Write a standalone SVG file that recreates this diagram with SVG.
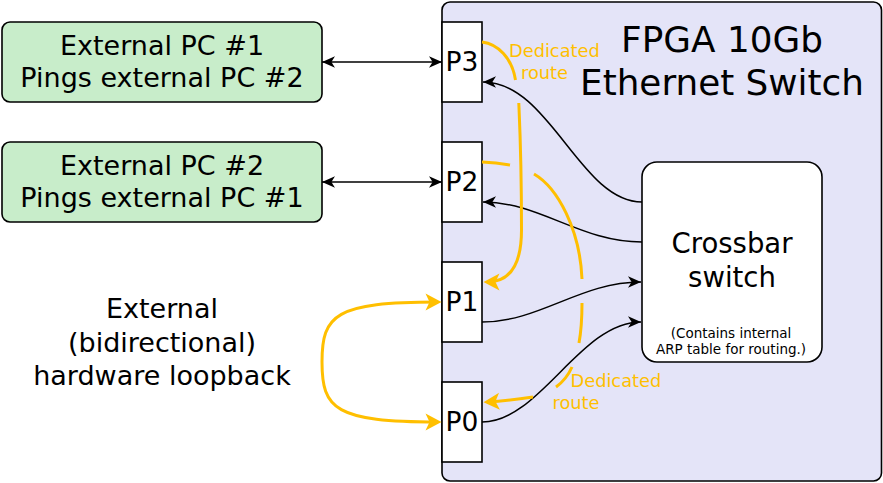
<svg xmlns="http://www.w3.org/2000/svg" width="883" height="483" viewBox="0 0 883 483">
<style>
text{font-family:"DejaVu Sans","Liberation Sans",sans-serif;fill:#000}
.pc{fill:#c8edca;stroke:#000;stroke-width:1.6}
.port{fill:#fff;stroke:#000;stroke-width:1.6}
.lbl{font-size:27px;text-anchor:middle}
.plbl{font-size:26.5px;text-anchor:middle}
.blk{fill:none;stroke:#000;stroke-width:1.5}
.org{fill:none;stroke:#ffbf00;stroke-width:3}
.otxt{font-size:17.8px;fill:#ffbf00}
</style>
<defs>
<marker id="ab" viewBox="0 0 14 12" refX="13" refY="6" markerWidth="14" markerHeight="12" orient="auto-start-reverse" markerUnits="userSpaceOnUse"><path d="M13,6 L0,0.3 L3.6,6 L0,11.7 z" fill="#000"/></marker>
<marker id="ao" viewBox="0 0 17 18" refX="13" refY="9" markerWidth="17" markerHeight="18" orient="auto-start-reverse" markerUnits="userSpaceOnUse"><path d="M16.5,9 L0.5,0.5 L4.5,9 L0.5,17.5 z" fill="#ffbf00"/></marker>
</defs>
<g id="fpga">
<rect x="442" y="2" width="439.5" height="479" rx="8" fill="#e4e4f8" stroke="#000" stroke-width="1.6"/>
<text x="722" y="52" font-size="35.8" text-anchor="middle">FPGA 10Gb</text>
<text x="722" y="95" font-size="35.8" text-anchor="middle">Ethernet Switch</text>
</g>
<g id="pc1">
<rect class="pc" x="2" y="22" width="320" height="80" rx="8"/>
<text class="lbl" x="162" y="55">External PC #1</text>
<text class="lbl" x="162" y="87">Pings external PC #2</text>
</g>
<g id="pc2">
<rect class="pc" x="2" y="142" width="320" height="80" rx="8"/>
<text class="lbl" x="162" y="175">External PC #2</text>
<text class="lbl" x="162" y="207">Pings external PC #1</text>
</g>
<g id="loopback-label">
<text class="lbl" x="162" y="318" font-size="27.3">External</text>
<text class="lbl" x="162" y="352" font-size="27.3">(bidirectional)</text>
<text class="lbl" x="162" y="385" font-size="27.3">hardware loopback</text>
</g>
<g id="p3"><rect class="port" x="442" y="22" width="40" height="80"/><text class="plbl" x="462" y="71">P3</text></g>
<g id="p2"><rect class="port" x="442" y="142" width="40" height="80"/><text class="plbl" x="462" y="191">P2</text></g>
<g id="p1"><rect class="port" x="442" y="262" width="40" height="80"/><text class="plbl" x="462" y="311">P1</text></g>
<g id="p0"><rect class="port" x="442" y="382" width="40" height="80"/><text class="plbl" x="462" y="431">P0</text></g>
<g id="crossbar">
<rect x="642" y="162" width="180" height="200" rx="15" fill="#fff" stroke="#000" stroke-width="1.6"/>
<text x="732" y="253" font-size="27.5" text-anchor="middle">Crossbar</text>
<text x="732" y="287" font-size="27.5" text-anchor="middle">switch</text>
<text x="731" y="338" font-size="13.5" text-anchor="middle">(Contains internal</text>
<text x="731" y="354" font-size="13.5" text-anchor="middle">ARP table for routing.)</text>
</g>
<g id="connectors">
<path class="blk" d="M322,62 L442,62" marker-start="url(#ab)" marker-end="url(#ab)"/>
<path class="blk" d="M322,182 L442,182" marker-start="url(#ab)" marker-end="url(#ab)"/>
<path class="blk" d="M642,202 C580,202 550,82 483,82" marker-end="url(#ab)"/>
<path class="blk" d="M642,242 C580,242 540,202 483,202" marker-end="url(#ab)"/>
<path class="blk" d="M482,322 C540,322 580,282 641,282" marker-end="url(#ab)"/>
<path class="blk" d="M482,422 C540,422 580,322 641,322" marker-end="url(#ab)"/>
<path class="org" d="M482,42 C498,44 512,58 515.5,80 M518.8,103 C520,130 521.5,160 521.5,230 C521.5,265 510,282 487,282" marker-end="url(#ao)"/>
<path class="org" d="M482,162 Q496,162.5 510,165 M534,174 C558,188 580,230 582,279 M582,303 C582,318 581,332 579,343 M572,367 C568,376 563,382 556,387 M533,397 C520,399 505,401 487,402" marker-end="url(#ao)"/>
<path class="org" d="M438,302 C335,302 322,315 322,362 C322,409 335,422 438,422" marker-start="url(#ao)" marker-end="url(#ao)"/>
<text class="otxt" x="509" y="57">Dedicated</text>
<text class="otxt" x="521" y="79">route</text>
<text class="otxt" x="570.5" y="387">Dedicated</text>
<text class="otxt" x="552.5" y="409">route</text>
</g>
</svg>
